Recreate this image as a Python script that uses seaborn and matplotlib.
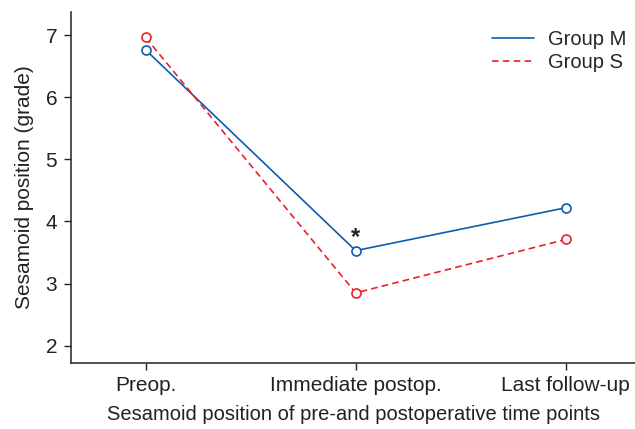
import matplotlib
matplotlib.use('Agg')
import matplotlib.pyplot as plt
import pandas as pd
import seaborn as sns

time_points = ['Preop.', 'Immediate postop.', 'Last follow-up']
group_m = [6.76, 3.53, 4.22]
group_s = [6.96, 2.85, 3.71]
groups = ['Group M', 'Group S']
colors = ['#0b5db0', '#e8212b']

sns.set_style('ticks')
plt.rcParams['font.family'] = ['Liberation Sans', 'DejaVu Sans']

df = pd.DataFrame({
    'time': list(range(3)) * 2,
    'value': group_m + group_s,
    'group': [groups[0]] * 3 + [groups[1]] * 3,
})

fig, ax = plt.subplots(figsize=(6.35, 4.29), dpi=100)
sns.lineplot(data=df, x='time', y='value', hue='group', style='group',
             palette=colors, dashes=[(None, None), (4, 2.5)], linewidth=1.2, ax=ax)
for g, c in zip(groups, colors):
    sub = df[df['group'] == g]
    ax.plot(sub['time'], sub['value'], linestyle='none', marker='o', markersize=6.5,
            markerfacecolor='white', markeredgecolor=c, markeredgewidth=1.2)

# significance mark at immediate postop.
ax.text(1, 3.74, '*', ha='center', va='center', fontsize=17, fontweight='bold', color='#222222')

ax.set_xlim(-0.355, 2.33)
ax.set_ylim(1.73, 7.37)
ax.set_xticks(range(3))
ax.set_xticklabels(time_points)
ax.set_yticks(range(2, 8))
ax.tick_params(labelsize=15, colors='#222222', length=5, width=1, pad=5)
ax.set_xlabel('Sesamoid position of pre-and postoperative time points', fontsize=14.5,
              color='#222222', labelpad=7)
ax.set_ylabel('Sesamoid position (grade)', fontsize=15, color='#222222', labelpad=8)
for s in ['top', 'right']:
    ax.spines[s].set_visible(False)
for s in ['left', 'bottom']:
    ax.spines[s].set_color('#333333')
    ax.spines[s].set_linewidth(1.2)

leg = ax.legend(title=None, frameon=False, fontsize=14.5, loc='upper right',
                bbox_to_anchor=(1.016, 1.0), handlelength=2.1, labelspacing=0.2,
                handletextpad=0.65)

fig.subplots_adjust(left=0.112, right=1.0, bottom=0.155, top=0.972)
fig.savefig('out.png', dpi=100)
